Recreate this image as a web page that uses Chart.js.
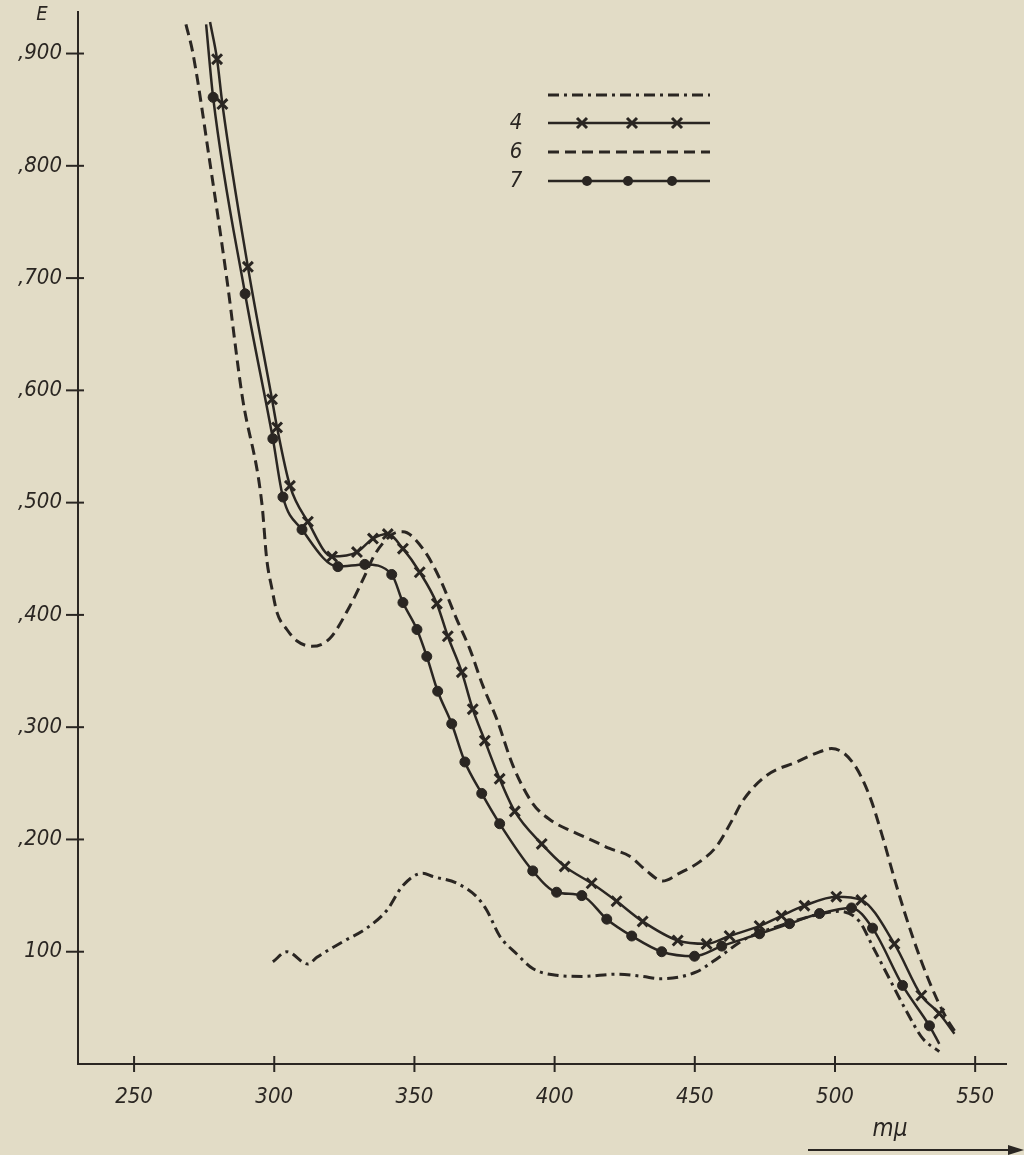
<!DOCTYPE html>
<html>
<head>
<meta charset="utf-8">
<script src="https://cdn.jsdelivr.net/npm/chart.js@4.4.0/dist/chart.umd.min.js"></script>
<style>
  html, body { margin: 0; padding: 0; background: #e2dcc6; }
  #wrap { width: 1024px; height: 1155px; }
</style>
</head>
<body>
<div id="wrap"><canvas id="spectrum"></canvas></div>
<script>
const INK = '#2a2622';
const PAPER = '#e2dcc6';
const FONT = "'DejaVu Sans Condensed', 'DejaVu Sans', sans-serif";

// tick labels
const xTicks = [250, 300, 350, 400, 450, 500, 550];
const yTicks = [0.1, 0.2, 0.3, 0.4, 0.5, 0.6, 0.7, 0.8, 0.9];

// curve without number (dash-dot)
const wl1 = [299.5, 304.5, 312.0, 315.2, 324.5, 333.0, 340.2, 345.9, 353.0, 356.6, 365.1, 372.2, 375.8, 380.4, 386.5, 392.2, 400.7, 410.0, 422.1, 431.4, 437.5, 450.6, 456.3, 468.5, 480.2, 492.0, 501.6, 508.7, 513.4, 519.4, 525.5, 531.2, 537.2];
const e1 = [0.091, 0.100, 0.089, 0.095, 0.109, 0.121, 0.137, 0.159, 0.170, 0.167, 0.161, 0.149, 0.137, 0.114, 0.098, 0.085, 0.079, 0.078, 0.080, 0.078, 0.076, 0.082, 0.091, 0.112, 0.123, 0.132, 0.136, 0.127, 0.105, 0.076, 0.047, 0.023, 0.011];

// curve 4 (crosses)
const wl4 = [277.1, 279.6, 281.5, 290.6, 299.2, 301.0, 305.6, 312.0, 320.6, 329.5, 335.2, 340.5, 345.9, 351.9, 358.0, 361.9, 366.9, 370.8, 375.1, 380.4, 385.8, 395.4, 403.6, 413.2, 422.1, 431.4, 443.9, 454.2, 462.4, 473.1, 480.9, 489.1, 500.5, 509.4, 521.2, 530.8, 537.2, 542.6];
const e4 = [0.928, 0.895, 0.855, 0.710, 0.592, 0.567, 0.515, 0.483, 0.452, 0.456, 0.468, 0.472, 0.459, 0.438, 0.410, 0.381, 0.349, 0.316, 0.288, 0.254, 0.225, 0.196, 0.176, 0.161, 0.145, 0.127, 0.110, 0.107, 0.114, 0.123, 0.132, 0.141, 0.149, 0.146, 0.107, 0.061, 0.045, 0.027];

// curve 6 (dashed)
const wl6 = [268.5, 271.0, 277.1, 283.1, 288.5, 295.6, 297.3, 299.2, 301.0, 304.5, 308.0, 313.4, 319.8, 327.0, 332.3, 335.9, 342.3, 345.9, 353.0, 359.1, 365.1, 369.7, 374.4, 379.4, 385.1, 392.2, 399.3, 406.5, 413.6, 419.6, 426.8, 432.8, 438.5, 444.6, 451.7, 457.8, 463.5, 467.0, 475.6, 486.3, 494.5, 498.8, 506.2, 512.3, 516.9, 521.9, 527.6, 533.7, 539.7, 543.3];
const e6 = [0.926, 0.900, 0.802, 0.699, 0.596, 0.499, 0.450, 0.423, 0.402, 0.387, 0.377, 0.372, 0.379, 0.408, 0.435, 0.454, 0.472, 0.474, 0.459, 0.432, 0.396, 0.370, 0.337, 0.307, 0.266, 0.232, 0.216, 0.207, 0.199, 0.192, 0.185, 0.172, 0.163, 0.170, 0.180, 0.194, 0.218, 0.234, 0.257, 0.269, 0.278, 0.281, 0.269, 0.239, 0.203, 0.159, 0.114, 0.073, 0.041, 0.027];

// curve 7 (dots)
const wl7 = [275.7, 278.2, 289.6, 299.5, 303.1, 309.9, 322.7, 332.3, 341.9, 345.9, 350.9, 354.4, 358.3, 363.3, 368.0, 374.0, 380.4, 392.2, 400.7, 409.7, 418.6, 427.5, 438.2, 449.9, 459.6, 473.1, 483.8, 494.5, 505.9, 513.4, 524.1, 533.7, 537.2];
const e7 = [0.926, 0.861, 0.686, 0.557, 0.505, 0.476, 0.443, 0.445, 0.436, 0.411, 0.387, 0.363, 0.332, 0.303, 0.269, 0.241, 0.214, 0.172, 0.153, 0.150, 0.129, 0.114, 0.100, 0.096, 0.105, 0.116, 0.125, 0.134, 0.139, 0.121, 0.070, 0.034, 0.018];

const legendLabels = ['', '4', '6', '7'];

function pts(xs, ys) {
  return xs.map((x, i) => ({ x: x, y: ys[i] }));
}

// first and last points of a measured curve are just the line ends, no marker
const markerOrNone = r => ctx => ctx.dataIndex === 0 || ctx.dataIndex === ctx.dataset.data.length - 1 ? 0 : r;

const datasets = [
  {
    label: legendLabels[0],
    data: pts(wl1, e1),
    borderColor: INK,
    borderWidth: 3,
    borderDash: [11, 5, 3, 5],
    pointRadius: 0
  },
  {
    label: legendLabels[1],
    data: pts(wl4, e4),
    borderColor: INK,
    borderWidth: 2.5,
    pointStyle: 'crossRot',
    pointRadius: markerOrNone(7),
    pointBorderWidth: 3,
    pointBorderColor: INK
  },
  {
    label: legendLabels[2],
    data: pts(wl6, e6),
    borderColor: INK,
    borderWidth: 3,
    borderDash: [11, 6],
    pointRadius: 0
  },
  {
    label: legendLabels[3],
    data: pts(wl7, e7),
    borderColor: INK,
    borderWidth: 2.5,
    pointStyle: 'circle',
    pointRadius: markerOrNone(5),
    pointBorderWidth: 1,
    pointBorderColor: INK,
    pointBackgroundColor: INK
  }
];

const paperPlugin = {
  id: 'paper',
  beforeDraw(chart) {
    const ctx = chart.ctx;
    ctx.save();
    ctx.fillStyle = PAPER;
    ctx.fillRect(0, 0, chart.width, chart.height);
    ctx.restore();
  }
};

// tick crosses, axis names and the hand-drawn style legend
const extrasPlugin = {
  id: 'extras',
  afterDraw(chart) {
    const ctx = chart.ctx;
    const xs = chart.scales.x, ys = chart.scales.y;
    const area = chart.chartArea;
    ctx.save();
    ctx.strokeStyle = INK;
    ctx.fillStyle = INK;
    ctx.lineWidth = 2;

    yTicks.forEach(v => {
      const py = ys.getPixelForValue(v);
      ctx.beginPath();
      ctx.moveTo(area.left - 12, py);
      ctx.lineTo(area.left + 6, py);
      ctx.stroke();
    });
    xTicks.forEach(v => {
      const px = xs.getPixelForValue(v);
      ctx.beginPath();
      ctx.moveTo(px, area.bottom - 8);
      ctx.lineTo(px, area.bottom + 8);
      ctx.stroke();
    });

    ctx.font = 'italic 20px ' + FONT;
    ctx.textAlign = 'center';
    ctx.textBaseline = 'middle';
    ctx.fillText('E', 42, 15);

    ctx.font = 'italic 24px ' + FONT;
    ctx.fillText('m\u03bc', 890, 1130);
    ctx.beginPath();
    ctx.moveTo(808, 1150);
    ctx.lineTo(1012, 1150);
    ctx.stroke();
    ctx.beginPath();
    ctx.moveTo(1024, 1150);
    ctx.lineTo(1008, 1145);
    ctx.lineTo(1008, 1155);
    ctx.closePath();
    ctx.fill();

    // legend
    const rowsY = [95, 123, 152, 181];
    const x0 = 548, x1 = 710;
    ctx.font = 'italic 22px ' + FONT;
    chart.data.datasets.forEach((ds, i) => {
      const y = rowsY[i];
      ctx.lineWidth = ds.borderWidth;
      ctx.setLineDash(ds.borderDash || []);
      ctx.beginPath();
      ctx.moveTo(x0, y);
      ctx.lineTo(x1, y);
      ctx.stroke();
      ctx.setLineDash([]);
      if (ds.pointStyle === 'crossRot') {
        [582, 632, 677].forEach(mx => {
          ctx.lineWidth = 3;
          ctx.beginPath();
          ctx.moveTo(mx - 5, y - 5); ctx.lineTo(mx + 5, y + 5);
          ctx.moveTo(mx + 5, y - 5); ctx.lineTo(mx - 5, y + 5);
          ctx.stroke();
        });
      } else if (ds.pointStyle === 'circle') {
        [587, 628, 672].forEach(mx => {
          ctx.beginPath();
          ctx.arc(mx, y, 5, 0, Math.PI * 2);
          ctx.fill();
        });
      }
      if (ds.label) ctx.fillText(ds.label, 516, y);
    });
    ctx.restore();
  }
};

function noPad(s) {
  s.paddingTop = 0;
  s.paddingBottom = 0;
  s.paddingLeft = 0;
  s.paddingRight = 0;
}

new Chart(document.getElementById('spectrum'), {
  type: 'line',
  data: { datasets },
  plugins: [paperPlugin, extrasPlugin],
  options: {
    responsive: true,
    maintainAspectRatio: false,
    animation: false,
    layout: { padding: { top: 12, right: 18, left: 0, bottom: 0 } },
    elements: { line: { cubicInterpolationMode: 'monotone', fill: false } },
    plugins: {
      legend: { display: false },
      tooltip: { enabled: false }
    },
    scales: {
      x: {
        type: 'linear',
        min: 230,
        max: 561,
        afterBuildTicks: s => { s.ticks = xTicks.map(v => ({ value: v })); },
        afterFit: s => { s.height = 91; noPad(s); },
        grid: { display: false, drawTicks: false },
        border: { display: true, color: INK, width: 2 },
        ticks: {
          color: INK,
          padding: 20,
          maxRotation: 0,
          font: { family: FONT, size: 22, style: 'italic' }
        }
      },
      y: {
        type: 'linear',
        min: 0,
        max: 0.937,
        afterBuildTicks: s => { s.ticks = yTicks.map(v => ({ value: v })); },
        afterFit: s => { s.width = 78; noPad(s); },
        grid: { display: false, drawTicks: false },
        border: { display: true, color: INK, width: 2 },
        ticks: {
          color: INK,
          padding: 16,
          font: { family: FONT, size: 22, style: 'italic' },
          callback: v => Math.round(v * 1000) === 100 ? '100' : ',' + Math.round(v * 1000)
        }
      }
    }
  }
});
</script>
</body>
</html>
